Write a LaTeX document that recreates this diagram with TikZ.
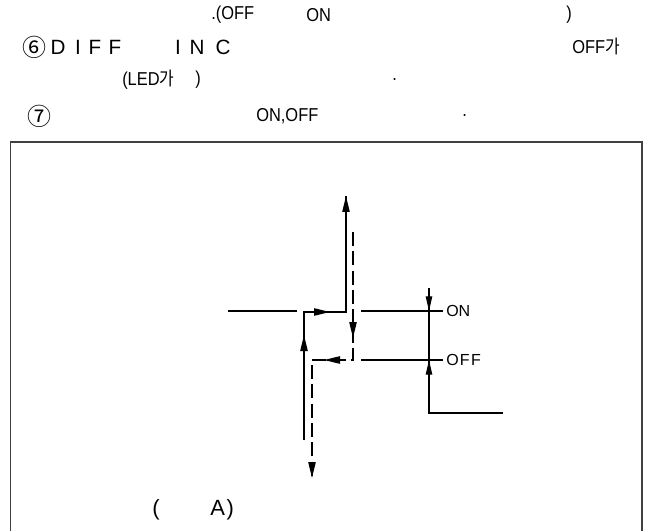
\documentclass[tikz,border=0pt]{standalone}
\usepackage{fontspec}
\setmainfont{Liberation Sans}
\newfontfamily\nar[FakeStretch=0.88]{Liberation Sans}
\newfontfamily\spa[LetterSpace=8]{Liberation Sans}
\newfontfamily\kr{Noto Sans CJK KR}
\newfontfamily\krn[FakeStretch=0.85]{Noto Sans CJK KR}
\usetikzlibrary{arrows.meta}
\begin{document}
\begin{tikzpicture}[x=0.75pt,y=-0.75pt,
  txt/.style={inner sep=0pt,anchor=west,font=\fontsize{14}{16}\nar},
  big/.style={inner sep=0pt,anchor=center,font=\fontsize{15.5}{17}\selectfont},
  circ/.style={inner sep=0pt,anchor=west,font=\fontsize{18}{20}\kr},
  lab/.style={inner sep=0pt,anchor=west,font=\fontsize{12}{14}\selectfont},
  frame/.style={draw=black!75,line width=1.1pt},
  main/.style={line width=1.1pt},
  dsh/.style={line width=1.1pt,dash pattern=on 10.5pt off 4pt},
  thinline/.style={line width=0.8pt},
  arr/.style={line width=1pt,-{Triangle[length=12pt,width=5.5pt]}},
  arrs/.style={line width=0.8pt,-{Triangle[length=11pt,width=4.8pt]}}]
\useasboundingbox (0,0) rectangle (657,531);
% top text
\node[txt] (t1a) at (211,15) {.(OFF};
\node[txt] (t1b) at (306,15) {ON};
\node[txt] (t1c) at (566,15) {)};
\node[circ] (t2a) at (22,47) {⑥};
\node[big] (l1) at (58,47) {D};
\node[big] (l2) at (78,47) {I};
\node[big] (l3) at (95,47) {F};
\node[big] (l4) at (115,47) {F};
\node[big] (l5) at (178,47) {I};
\node[big] (l6) at (197,47) {N};
\node[big] (l7) at (223,47) {C};
\node[txt] (t2d) at (572,47) {OFF{\krn 가}};
\node[txt] (t3a) at (122,80) {(LED{\krn 가}};
\node[txt] (t3b) at (195,80) {)};
\node[txt] (t3c) at (392,80) {.};
\node[circ] (t4a) at (27,116) {⑦};
\node[txt] (t4b) at (256,116) {ON,OFF};
\node[txt] (t4c) at (462,116) {.};
% frame
\draw[frame] (10.5,531) -- (10.5,142) -- (642,142) -- (642,531);
% coordinates
\coordinate (in1) at (228,311);
\coordinate (in2) at (297,311);
\coordinate (s0) at (304,440);
\coordinate (s1) at (304,312);
\coordinate (s2) at (346,312);
\coordinate (s3) at (346,196);
\coordinate (d0) at (353,232);
\coordinate (d1) at (353,360);
\coordinate (d2) at (312,360);
\coordinate (d3) at (312,478);
\coordinate (on1) at (361,311);
\coordinate (on2) at (443,311);
\coordinate (of1) at (361,360);
\coordinate (of2) at (443,360);
\coordinate (m0) at (429,288);
\coordinate (m1) at (429,413);
\coordinate (m2) at (503,413);
% input line
\draw[thinline] (in1) -- (in2);
% solid hysteresis path
\draw[main] (s0) -- (s1) -- (s2) -- (s3);
\draw[arr] (s3) ++(0,16) -- (s3);
\draw[arr] (304,352) -- (304,335);
\draw[arr] (312,312) -- (330,312);
% dashed path
\draw[dsh] (d0) -- (d1) -- (d2) -- (d3);
\draw[arr] (d3) ++(0,-16) -- (d3);
\draw[arr] (353,320) -- (353,338);
\draw[arr] (343,360) -- (324,360);
% extension and dimension lines
\draw[thinline] (on1) -- (on2);
\draw[thinline] (of1) -- (of2);
\draw[thinline] (m0) -- (m1) -- (m2);
\draw[arrs] (429,296) -- (429,311);
\draw[arrs] (429,376) -- (429,360);
\node[lab] (lon) at (446,311) {ON};
\node[lab,font=\fontsize{12}{14}\spa] (loff) at (446,360) {OFF};
% caption
\node[inner sep=0pt,anchor=west,font=\fontsize{16.5}{18}\selectfont] (c1) at (152,510) {(};
\node[inner sep=0pt,anchor=west,font=\fontsize{16.5}{18}\spa] (c2) at (210,510) {A)};
\end{tikzpicture}
\end{document}
